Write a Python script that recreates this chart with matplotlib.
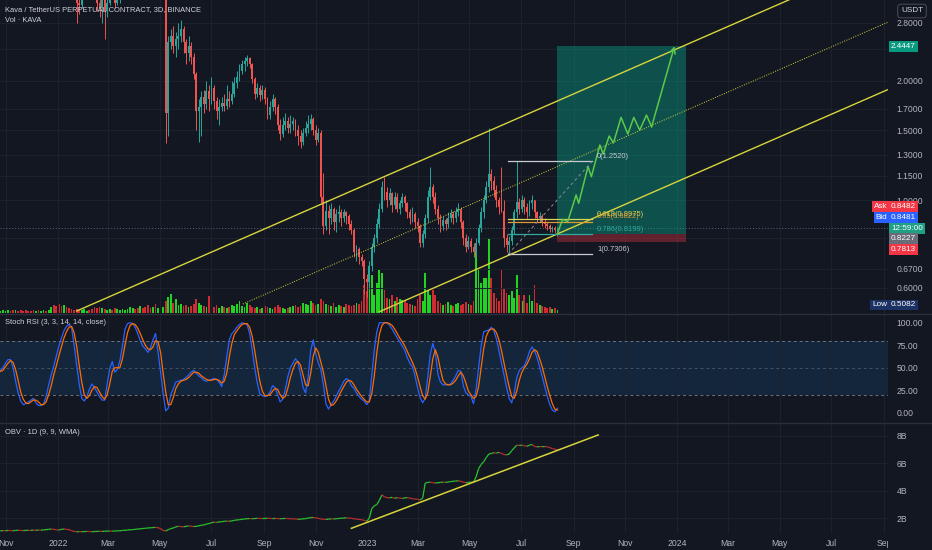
import numpy as np
import pandas as pd
import matplotlib
matplotlib.use("Agg")
import matplotlib.pyplot as plt
import matplotlib.dates as mdates
from matplotlib.collections import LineCollection
from matplotlib.ticker import NullLocator, NullFormatter
from matplotlib.transforms import Bbox, TransformedBbox

plt.rcParams['font.family'] = ['Liberation Sans', 'DejaVu Sans']

BG = '#131722'
GRID = '#1e222d'
TXT = '#b2b5be'
UP, DOWN = '#26a69a', '#ef5350'
YEL = '#d8d43c'

# ---- KAVA/USDT 3D candles ----
dates = pd.date_range('2021-10-22', periods=221, freq='3D')
first_open = 5.1
closes = [5.3, 5.6, 5.9, 6.1, 6.3, 6.0, 5.8, 6.2, 5.9, 5.6, 5.2,
          5.0, 4.7, 4.4, 4.1, 4.3, 4.0, 4.2, 4.5, 4.3, 4.4,
          4.6, 4.4, 4.3, 4.1, 3.9, 4.0, 3.8, 3.7, 3.6, 3.4,
          3.15, 3.1, 3.5, 3.7, 3.9, 3.8, 3.6, 3.4,
          3.15, 3.05, 3.2, 3.0, 3.15, 3.5, 3.4, 3.15, 3.25, 3.3, 3.6,
          3.9, 4.3, 4.6, 4.8, 4.5, 4.2, 4.4, 4.0, 3.8, 3.6, 3.5, 3.6, 3.4, 3.5, 3.3, 3.4,
          1.66, 2.5, 2.6, 2.45, 2.55, 2.6, 2.7, 2.5, 2.35, 2.45, 2.3, 2.08, 1.68, 1.72, 1.82,
          1.75, 1.88, 1.80, 1.92, 1.78, 1.68, 1.72, 1.76, 1.73, 1.80,
          1.78, 1.85, 1.98, 2.05, 2.12, 2.2, 2.25, 2.28, 2.2, 2.02,
          1.85, 1.92, 1.84, 1.90, 1.80, 1.64, 1.72, 1.80, 1.72, 1.55,
          1.47, 1.55, 1.58, 1.52, 1.56, 1.58, 1.5, 1.45, 1.40, 1.48,
          1.52, 1.56, 1.6, 1.5, 1.42, 1.48,
          1.02, 0.86, 0.94, 0.90, 0.95, 0.88, 0.92, 0.93, 0.90, 0.93,
          0.91, 0.87, 0.84, 0.74, 0.75, 0.72, 0.70, 0.63, 0.62,
          0.68, 0.76, 0.80, 0.87, 0.95, 1.08, 1.05, 1.00, 1.04, 0.97, 1.02, 0.95, 0.98, 1.02, 0.98,
          0.93, 0.90, 0.92, 0.88, 0.86, 0.78, 0.82, 0.90, 1.02, 1.08,
          1.02, 0.95, 0.90, 0.86, 0.89, 0.87, 0.90, 0.92, 0.90, 0.93,
          0.95, 0.88, 0.80, 0.76, 0.79, 0.76, 0.74, 0.78, 0.85, 0.93,
          1.0, 1.08, 1.16, 1.12, 1.06, 1.0, 0.96, 0.94, 0.80, 0.77,
          0.79, 0.84, 0.93, 0.99, 0.95, 1.0, 0.96, 0.93, 0.98, 1.0,
          0.93, 0.90, 0.91, 0.88, 0.87, 0.86, 0.845, 0.85, 0.84, 0.8481]
highs = [5.6, 5.9, 6.2, 6.4, 6.6, 6.4, 6.1, 6.5, 6.3, 6.0, 5.7,
         5.4, 5.1, 4.8, 4.5, 4.6, 4.4, 4.5, 4.8, 4.6, 4.7,
         4.9, 4.8, 4.6, 4.5, 4.3, 4.3, 4.2, 4.0, 3.9, 3.8,
         3.5, 3.35, 3.6, 3.9, 4.1, 4.0, 3.9, 3.7,
         3.45, 3.3, 3.35, 3.3, 3.3, 3.6, 3.6, 3.45, 3.4, 3.45, 3.7,
         4.0, 4.4, 4.8, 5.0, 4.9, 4.6, 4.6, 4.5, 4.1, 3.9, 3.8, 3.8, 3.7, 3.6, 3.6, 3.6,
         3.45, 2.6, 2.7, 2.75, 2.65, 2.8, 2.85, 2.75, 2.55, 2.6, 2.5, 2.35, 2.1, 1.8, 1.88,
         1.9, 2.0, 1.95, 2.05, 1.95, 1.82, 1.8, 1.82, 1.85, 1.95,
         1.88, 2.0, 2.05, 2.12, 2.2, 2.26, 2.3, 2.33, 2.3, 2.22,
         2.05, 1.97, 1.95, 1.95, 1.93, 1.82, 1.78, 1.85, 1.82, 1.75,
         1.6, 1.62, 1.66, 1.62, 1.64, 1.62, 1.6, 1.55, 1.5, 1.52,
         1.58, 1.64, 1.65, 1.62, 1.55, 1.52,
         1.5, 1.17, 1.0, 0.97, 0.98, 0.96, 0.95, 0.97, 0.95, 0.95,
         0.94, 0.92, 0.89, 0.85, 0.77, 0.76, 0.73, 0.71, 0.65,
         0.70, 0.78, 0.82, 0.9, 0.98, 1.12, 1.14, 1.08, 1.07, 1.05, 1.05, 1.04, 1.0, 1.04, 1.03,
         0.99, 0.95, 0.96, 0.93, 0.9, 0.87, 0.84, 0.92, 1.06, 1.21,
         1.1, 1.05, 0.97, 0.92, 0.91, 0.9, 0.93, 0.95, 0.94, 0.96,
         0.98, 0.96, 0.89, 0.82, 0.81, 0.8, 0.78, 0.8, 0.87, 0.96,
         1.03, 1.12, 1.52, 1.2, 1.15, 1.09, 1.02, 1.21, 1.0, 0.82,
         0.81, 0.86, 0.95, 1.252, 1.01, 1.03, 1.02, 0.98, 1.0, 1.03,
         1.0, 0.94, 0.93, 0.92, 0.9, 0.88, 0.87, 0.86, 0.86, 0.855]
lows = [5.0, 5.2, 5.6, 5.8, 5.9, 5.7, 5.5, 5.7, 5.7, 5.3, 4.9,
        4.7, 4.5, 4.2, 3.9, 4.0, 3.8, 3.9, 4.1, 4.1, 4.2,
        4.3, 4.2, 4.1, 3.9, 3.7, 3.75, 3.6, 3.5, 3.4, 3.3,
        2.80, 2.95, 3.05, 3.4, 3.6, 3.55, 3.4, 3.3,
        3.0, 2.9, 2.8, 2.55, 2.9, 3.1, 3.25, 3.05, 3.1, 3.15, 3.25,
        3.5, 3.8, 4.2, 4.4, 4.3, 4.0, 4.1, 3.9, 3.6, 3.5, 3.35, 3.4, 3.3, 3.35, 3.25, 3.25,
        1.39, 1.45, 2.4, 2.35, 2.3, 2.4, 2.5, 2.35, 2.2, 2.25, 2.2, 2.02, 1.5, 1.40, 1.45,
        1.66, 1.7, 1.68, 1.75, 1.7, 1.6, 1.55, 1.68, 1.68, 1.7,
        1.72, 1.75, 1.82, 1.92, 2.0, 2.08, 2.12, 2.18, 2.15, 1.98,
        1.8, 1.82, 1.78, 1.8, 1.75, 1.6, 1.6, 1.68, 1.65, 1.5,
        1.42, 1.44, 1.5, 1.48, 1.48, 1.5, 1.45, 1.38, 1.35, 1.38,
        1.45, 1.48, 1.5, 1.46, 1.38, 1.4,
        0.98, 0.82, 0.84, 0.82, 0.87, 0.84, 0.83, 0.88, 0.86, 0.88,
        0.87, 0.84, 0.82, 0.72, 0.70, 0.69, 0.68, 0.58, 0.57,
        0.60, 0.66, 0.74, 0.78, 0.85, 0.93, 1.0, 0.96, 0.97, 0.93, 0.95, 0.93, 0.92, 0.96, 0.94,
        0.9, 0.87, 0.88, 0.85, 0.83, 0.76, 0.76, 0.8, 0.88, 1.0,
        0.98, 0.92, 0.87, 0.83, 0.84, 0.84, 0.85, 0.88, 0.87, 0.88,
        0.91, 0.85, 0.77, 0.74, 0.75, 0.74, 0.72, 0.72, 0.77, 0.83,
        0.9, 0.98, 1.05, 1.06, 1.02, 0.96, 0.92, 0.93, 0.76, 0.74,
        0.7306, 0.77, 0.82, 0.9, 0.92, 0.93, 0.92, 0.9, 0.91, 0.95,
        0.9, 0.88, 0.88, 0.86, 0.85, 0.84, 0.83, 0.83, 0.825, 0.81]
volume = [3, 2, 3, 2, 3, 2, 3, 3, 2, 3, 2, 3, 2, 2, 3, 2, 3, 2, 3, 2, 3,
          6, 8, 7, 9, 7, 8, 6, 5, 4, 3,
          4, 3, 3, 4, 2, 3, 4, 6, 5, 6,
          5, 4, 3, 4, 3, 5, 4, 3, 4, 3, 4, 6, 5, 4, 5, 7, 5, 6, 8, 5,
          6, 9, 5, 7, 6, 12,
          16, 19, 10, 14, 8, 9, 7, 8, 6, 7, 9, 14, 10, 8,
          7, 6, 17, 9, 6, 8, 5, 7, 6, 5, 6, 8, 7, 9, 12, 7, 6, 10, 8, 6,
          5, 6, 4, 5, 7, 6, 5, 4, 6, 8, 6, 5, 4, 5, 6, 7, 8, 6, 7, 10, 9, 8, 12, 10, 8, 9,
          14, 12, 9, 8, 7, 10, 6, 8, 7, 6, 9, 8, 7, 8, 10, 9, 12, 28, 22,
          42, 38, 18, 30, 43, 40, 23, 15, 14, 18, 12, 16, 14, 13, 12,
          10, 9, 8, 7, 14, 18, 12, 40, 22, 18, 23, 18, 12, 10, 8, 9, 11, 8, 7, 9,
          10, 8, 9, 11, 9, 8, 12, 65, 45, 30, 35, 35, 75, 35, 20, 15, 12, 43, 25, 20,
          18, 22, 15, 38, 18, 12, 18, 10, 18, 12, 28, 10, 8, 7, 6, 5, 6, 4, 5, 3]

# Stoch RSI (3, 3, 14, 14, close)
stoch_k = [45, 47, 50, 55, 59, 59, 50, 35, 22, 13,
           9, 10, 12, 14, 16, 11, 8, 8, 10, 18,
           31, 42, 52, 63, 74, 83, 91, 96, 98, 95,
           75, 53, 32, 16, 13, 18, 26, 32, 28, 23,
           18, 14, 14, 32, 49, 57, 45, 48, 58, 74,
           93, 99, 100, 99, 95, 88, 80, 74, 71, 67,
           72, 81, 88, 67, 45, 21, 2, 5, 20, 27,
           34, 35, 36, 37, 39, 42, 45, 47, 44, 41,
           39, 36, 35, 36, 37, 38, 37, 34, 29, 42,
           62, 81, 88, 91, 95, 98, 100, 99, 98, 88,
           70, 50, 33, 21, 19, 18, 19, 23, 30, 28,
           20, 12, 15, 26, 40, 50, 55, 60, 56, 43,
           28, 22, 40, 69, 81, 65, 55, 48, 31, 10,
           4, 9, 13, 18, 24, 29, 35, 38, 36, 30,
           27, 22, 18, 15, 13, 9, 13, 41, 70, 90,
           100, 100, 100, 100, 97, 93, 88, 83, 79, 74,
           69, 61, 55, 51, 41, 28, 17, 11, 16, 39,
           65, 77, 67, 43, 34, 31, 31, 31, 32, 36,
           41, 47, 46, 30, 22, 20, 18, 10, 26, 50,
           74, 90, 91, 92, 95, 91, 82, 69, 55, 42,
           28, 16, 11, 22, 39, 47, 50, 52, 59, 68,
           73, 69, 61, 51, 40, 29, 18, 9, 3, 1,
           5]
stoch_d = [44, 46, 47, 51, 55, 58, 56, 48, 36, 23,
           15, 11, 10, 12, 14, 14, 12, 9, 9, 12,
           20, 30, 42, 52, 63, 73, 83, 90, 95, 96,
           89, 74, 53, 34, 20, 16, 19, 25, 29, 28,
           23, 18, 15, 20, 32, 46, 50, 50, 50, 60,
           75, 89, 97, 99, 98, 94, 88, 81, 75, 71,
           70, 73, 80, 79, 67, 44, 23, 9, 9, 17,
           27, 32, 35, 36, 37, 39, 42, 45, 45, 44,
           41, 39, 37, 36, 36, 37, 37, 36, 33, 35,
           44, 62, 77, 87, 91, 95, 98, 99, 99, 95,
           85, 69, 51, 35, 24, 19, 19, 20, 24, 27,
           26, 20, 16, 18, 27, 39, 48, 55, 57, 53,
           42, 31, 30, 44, 63, 72, 67, 56, 45, 30,
           15, 8, 9, 13, 18, 24, 29, 34, 36, 35,
           31, 26, 22, 18, 15, 12, 12, 21, 41, 67,
           87, 97, 100, 100, 99, 97, 93, 88, 83, 79,
           74, 68, 62, 56, 49, 40, 29, 19, 15, 22,
           40, 60, 70, 62, 48, 36, 32, 31, 31, 33,
           36, 41, 45, 41, 33, 24, 20, 16, 18, 29,
           50, 71, 85, 91, 93, 93, 89, 81, 69, 55,
           42, 29, 18, 16, 24, 36, 45, 50, 54, 60,
           67, 70, 68, 60, 51, 40, 29, 19, 10, 4,
           3]

# OBV (billions)
obv = [1.10, 1.09, 1.11, 1.10, 1.12, 1.11, 1.10, 1.12, 1.13, 1.12, 1.11, 1.12, 1.13, 1.12, 1.14, 1.13,
       1.15, 1.14, 1.16, 1.18, 1.20, 1.22, 1.20, 1.17, 1.15, 1.20, 1.22, 1.20, 1.18, 1.10, 1.05, 1.02,
       1.04, 1.03, 1.04, 1.05, 1.04, 1.03, 1.04, 1.05, 1.06, 1.05, 1.06, 1.07, 1.08, 1.07, 1.08,
       1.09, 1.10, 1.12, 1.13, 1.15, 1.17, 1.18, 1.20, 1.22, 1.24, 1.26, 1.28, 1.30, 1.31, 1.33, 1.34,
       1.32, 1.25, 1.12, 1.08, 1.18, 1.25, 1.30, 1.38, 1.42, 1.40, 1.38, 1.42, 1.45, 1.43, 1.40, 1.42, 1.45, 1.50,
       1.52, 1.58, 1.62, 1.68, 1.72, 1.70, 1.74, 1.76, 1.78, 1.80, 1.78, 1.82, 1.85, 1.88, 1.90, 1.93, 1.95, 1.97, 1.98, 1.97,
       1.98, 2.0, 1.99, 1.98, 1.99, 2.0, 1.99, 1.98, 1.99, 1.98, 1.97, 1.98, 1.99, 1.98, 1.97, 1.96, 1.95, 1.93, 1.94, 1.96,
       1.98, 2.02, 2.05, 2.06, 2.03, 2.0,
       1.95, 1.93, 1.92, 1.94, 1.96, 1.95, 1.97, 1.99, 2.0, 2.02, 2.03, 2.02, 2.0, 1.96, 1.94, 1.92, 1.9, 1.85, 1.78,
       2.0, 2.7, 2.9, 3.0, 3.3, 3.7, 3.55, 3.5, 3.48, 3.52, 3.45, 3.5, 3.46, 3.44, 3.48, 3.5, 3.46, 3.42, 3.40, 3.38, 3.33,
       3.45, 4.55, 4.6, 4.62, 4.58, 4.56, 4.58, 4.6, 4.62, 4.6, 4.63, 4.66, 4.68, 4.7, 4.72, 4.68, 4.62, 4.58, 4.6, 4.63, 4.62,
       5.0, 5.6, 5.9, 6.1, 6.4, 6.65, 6.7, 6.75, 6.72, 6.78, 6.7, 6.62, 6.6, 6.65, 6.9, 7.1, 7.3, 7.28, 7.3, 7.25,
       7.22, 7.3, 7.35, 7.2, 7.18, 7.2, 7.19, 7.2, 7.18, 7.12, 7.05, 7.0, 6.98]

# ---- drawings ----
channel_upper = (['2022-01-23', '2024-09-05'], [0.5245, 4.112])
channel_mid = (['2022-08-07', '2024-09-05'], [0.5462, 2.809])
channel_low = (['2023-01-15', '2024-09-05'], [0.5223, 1.898])
obv_trend = (['2022-12-13', '2023-09-30'], [1.275, 8.04])

fib_span = ['2023-06-16', '2023-09-23']
fib_high, fib_low = 1.2520, 0.7306
fib_ratios = [0, 0.618, 0.65, 0.786, 1]
fib_colors = ['#c8cad0', '#d8d45a', '#e09a35', '#2fa9a0', '#c8cad0']

box_span = ['2023-08-13', '2024-01-11']
entry, target, stop = 0.8227, 2.4447, 0.7813
last_price = 0.8481

path_dates = ['2023-08-13', '2023-08-19', '2023-08-25', '2023-09-04', '2023-09-07', '2023-09-18',
              '2023-09-22', '2023-10-02', '2023-10-06', '2023-10-13', '2023-10-18', '2023-10-27',
              '2023-11-04', '2023-11-11', '2023-11-18', '2023-11-26', '2023-12-02', '2023-12-29']
path_prices = [0.8227, 0.894, 0.881, 1.030, 0.981, 1.214, 1.145, 1.377, 1.307, 1.451, 1.393,
               1.617, 1.468, 1.617, 1.502, 1.639, 1.531, 2.4447]

# grid levels; the 2.4 and 0.8 labels sit under the price badges
price_ticks = [0.6, 0.67, 0.8, 1.0, 1.15, 1.3, 1.5, 1.7, 2.0, 2.4, 2.8]
price_labels = ['0.6000', '0.6700', '', '1.0000', '1.1500', '1.3000', '1.5000', '1.7000', '2.0000', '', '2.8000']
month_ticks = pd.date_range('2021-11-01', '2024-09-01', freq='2MS')
month_labels = ['Nov', '2022', 'Mar', 'May', 'Jul', 'Sep', 'Nov', '2023', 'Mar', 'May',
                'Jul', 'Sep', 'Nov', '2024', 'Mar', 'May', 'Jul', 'Sep']

# ---- figure ----
W, H = 932, 550
fig = plt.figure(figsize=(W / 100, H / 100), dpi=100)
fig.patch.set_facecolor(BG)


def rect(top, bottom, right=888):
    return [0, 1 - bottom / H, right / W, (bottom - top) / H]


ax_vol = fig.add_axes(rect(0, 313))
ax = fig.add_axes(rect(0, 313))
ax_st = fig.add_axes(rect(314, 422))
ax_obv = fig.add_axes(rect(423, 533))

t0 = mdates.date2num(pd.Timestamp('2022-01-01'))
xlim = (t0 - 68.4, t0 + 978.8)
x = mdates.date2num(dates)
mt = mdates.date2num(month_ticks)


def dn(s):
    return mdates.date2num(pd.to_datetime(s))


for a in (ax_vol, ax, ax_st, ax_obv):
    a.set_xlim(*xlim)
    for s in a.spines.values():
        s.set_visible(False)
    a.patch.set_visible(False)

# volume overlay
c = np.array(closes)
o = np.r_[first_open, c[:-1]]
up = c >= o
ax_vol.bar(x, volume, width=2.1, color=np.where(up, '#22d422', '#cf2b33'), linewidth=0)
ax_vol.set_ylim(0, 313)
ax_vol.axis('off')
ax_vol.set_zorder(0)
ax.set_zorder(1)

# price
ax.set_yscale('log')
ax.set_ylim(0.5184, 3.20)
ax.yaxis.tick_right()
ax.yaxis.set_minor_locator(NullLocator())
ax.yaxis.set_minor_formatter(NullFormatter())
ax.set_yticks(price_ticks)
ax.set_yticklabels(price_labels)
ax.set_xticks(mt)
ax.tick_params(axis='both', length=0, labelsize=6.2, labelcolor=TXT, pad=6, labelbottom=False)
ax.grid(True, color=GRID, lw=0.7)

hi = np.maximum(np.array(highs), np.maximum(o, c))
lo = np.minimum(np.array(lows), np.minimum(o, c))
cc = np.where(up, UP, DOWN)
ax.vlines(x, lo, hi, colors=cc, lw=0.7, zorder=3)
ax.bar(x, np.abs(c - o), bottom=np.minimum(o, c), width=2.2, color=cc, linewidth=0, zorder=3)

ax.axhline(last_price, color='#4f6a78', ls=(0, (1, 2)), lw=0.7, zorder=2)

# long position box
bx = [dn(box_span[0]), dn(box_span[1])]
ax.fill_between(bx, entry, target, color='#089981', alpha=0.45, lw=0, zorder=2)
ax.fill_between(bx, stop, entry, color='#f23645', alpha=0.35, lw=0, zorder=2)

# channel
for (ds, ps), ls, lw in ((channel_upper, '-', 1.0), (channel_mid, (0, (1, 1.5)), 0.7), (channel_low, '-', 1.0)):
    ax.plot([dn(d) for d in ds], ps, color=YEL, ls=ls, lw=lw, zorder=5)

# fib retracement (log)
fx = [dn(fib_span[0]), dn(fib_span[1])]
lh, ll = np.log(fib_high), np.log(fib_low)
for r, col in zip(fib_ratios, fib_colors):
    p = np.exp(lh - r * (lh - ll))
    ax.plot(fx, [p, p], color=col, lw=0.9, zorder=5)
    lab = f'{r:g}({p:.4f})'
    ax.annotate(lab, xy=(fx[1], p), xytext=(3.5, 0.8), textcoords='offset points',
                ha='left', va='bottom', fontsize=5.4, color=col, zorder=7)
ax.plot(fx, [fib_low, fib_high], color='#8a8d96', ls=(0, (3, 3)), lw=0.7, zorder=5)

# projected path
px = [dn(d) for d in path_dates]
ax.plot(px[:-1], path_prices[:-1], color='#5cc84a', lw=1.1, zorder=6)
ax.annotate('', xy=(px[-1], path_prices[-1]), xytext=(px[-2], path_prices[-2]),
            arrowprops=dict(arrowstyle='->', color='#5cc84a', lw=1.1, mutation_scale=10,
                            shrinkA=0, shrinkB=0), zorder=6)


def badge(text, y, fc, dy=0.0, coords='data', side='right', tc='white'):
    xo, ha = (2.2, 'left') if side == 'right' else (-0.6, 'right')
    ax.annotate(text, xy=(1, y), xycoords=('axes fraction', coords), xytext=(xo, dy),
                textcoords='offset points', ha=ha, va='center', fontsize=5.9, color=tc,
                bbox=dict(boxstyle='square,pad=0.22', fc=fc, ec='none'),
                annotation_clip=False, zorder=10)


badge(f'{target:.4f}', target, '#089981')
badge('0.8482', last_price, '#f23645', dy=15.6)
badge('Ask', last_price, '#f23645', dy=15.6, side='left')
badge('0.8481', last_price, '#2962ff', dy=7.9)
badge('Bid', last_price, '#2962ff', dy=7.9, side='left')
badge('12:59:00', last_price, '#1f9f84')
badge(f'{entry:.4f}', entry, '#6a6d78', dy=-3.7)
badge(f'{stop:.4f}', stop, '#f23645', dy=-4.9)
badge('0.5082', 0.026, '#1c3264', coords='axes fraction')
badge('Low', 0.026, '#1c3264', coords='axes fraction', side='left')

# stoch rsi
ax_st.set_ylim(-10.3, 109.7)
ax_st.axhspan(20, 80, color='#2196f3', alpha=0.12, lw=0)
for lvl, al in ((80, 0.9), (50, 0.5), (20, 0.9)):
    ax_st.axhline(lvl, color='#787b86', ls=(0, (3, 3)), lw=0.7, alpha=al)
ax_st.plot(x, stoch_k, color='#2962ff', lw=0.9)
ax_st.plot(x, stoch_d, color='#ff6d00', lw=0.9)
ax_st.yaxis.tick_right()
ax_st.set_yticks([0, 25, 50, 75, 100])
ax_st.set_yticklabels(['0.00', '25.00', '50.00', '75.00', '100.00'])
ax_st.set_xticks(mt)
ax_st.tick_params(axis='both', length=0, labelsize=6.2, labelcolor=TXT, pad=6, labelbottom=False)
ax_st.grid(True, axis='x', color=GRID, lw=0.7)

# obv
ax_obv.set_ylim(0.935, 8.906)
ob = np.array(obv)
pts = np.column_stack([x, ob])
segs = np.stack([pts[:-1], pts[1:]], axis=1)
ax_obv.add_collection(LineCollection(segs, colors=np.where(np.diff(ob) >= 0, '#2cc32c', '#b83030'), lw=0.9))
ax_obv.plot([dn(d) for d in obv_trend[0]], obv_trend[1], color=YEL, lw=1.1)
ax_obv.yaxis.tick_right()
ax_obv.set_yticks([2, 4, 6, 8])
ax_obv.set_yticklabels(['2B', '4B', '6B', '8B'])
ax_obv.set_xticks(mt)
ax_obv.set_xticklabels(month_labels)
ax_obv.tick_params(axis='both', length=0, labelsize=6.2, labelcolor=TXT, pad=6)
ax_obv.tick_params(axis='x', pad=4)
ax_obv.grid(True, color=GRID, lw=0.7)
clip = TransformedBbox(Bbox([[0, 0], [888 / W, 1]]), fig.transFigure)
for t in ax_obv.get_xticklabels():
    t.set_clip_box(clip)
    t.set_clip_on(True)

# pane separators and headers
for yy in (313.5, 422.5):
    fig.add_artist(plt.Line2D([0, 1], [1 - yy / H] * 2, color='#2a2e39', lw=1.0))
fig.text(5 / W, 1 - 10 / H, 'Kava / TetherUS PERPETUAL CONTRACT, 3D, BINANCE', fontsize=5.4,
         color='#d1d4dc', va='center')
fig.text(5 / W, 1 - 21 / H, 'Vol · KAVA', fontsize=5.4, color='#d1d4dc', va='center')
fig.text(5 / W, 1 - 322 / H, 'Stoch RSI (3, 3, 14, 14, close)', fontsize=5.4, color='#d1d4dc', va='center')
fig.text(5 / W, 1 - 433 / H, 'OBV · 1D (9, 9, WMA)', fontsize=5.4, color='#d1d4dc', va='center')
fig.text(912 / W, 1 - 11 / H, 'USDT', fontsize=5.9, color='#d1d4dc', ha='center', va='center',
         bbox=dict(boxstyle='round,pad=0.4', fc=BG, ec='#434651', lw=0.8))

fig.savefig('out.png', dpi=100, facecolor=BG)
